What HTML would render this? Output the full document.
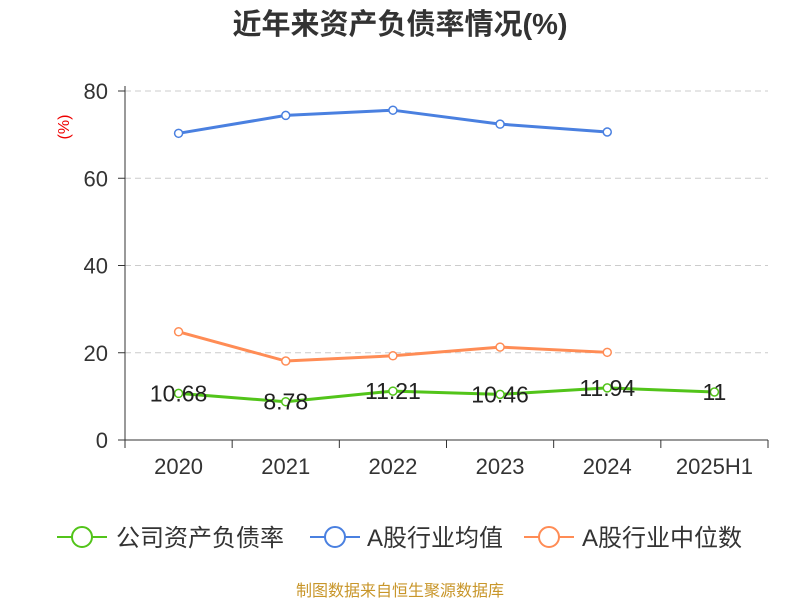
<!DOCTYPE html>
<html><head><meta charset="utf-8"><style>
body{margin:0;background:#fff;}
svg text{font-family:"Liberation Sans","Noto Sans CJK SC",sans-serif;}
</style></head><body>
<svg width="800" height="600" xmlns="http://www.w3.org/2000/svg" id="chart">
<text x="400" y="34" text-anchor="middle" font-size="29" font-weight="bold" fill="#333">近年来资产负债率情况(%)</text>
<text x="69" y="127" font-size="16" fill="#e00" transform="rotate(-90 69 127)" text-anchor="middle">(%)</text>
<g id="grid"></g><g id="axes"></g><g id="series"></g>
<g>
<g><line x1="57" y1="537" x2="107" y2="537" stroke="#52c41a" stroke-width="2"/><circle cx="82" cy="537" r="10" fill="#fff" stroke="#52c41a" stroke-width="2"/><text x="116" y="546" font-size="24" fill="#333">公司资产负债率</text></g>
<g><line x1="310" y1="537" x2="360" y2="537" stroke="#4a80e0" stroke-width="2"/><circle cx="335" cy="537" r="10" fill="#fff" stroke="#4a80e0" stroke-width="2"/><text x="367" y="546" font-size="24" fill="#333">A股行业均值</text></g>
<g><line x1="524" y1="537" x2="574" y2="537" stroke="#ff8c55" stroke-width="2"/><circle cx="549" cy="537" r="10" fill="#fff" stroke="#ff8c55" stroke-width="2"/><text x="582" y="546" font-size="24" fill="#333">A股行业中位数</text></g>
</g>
<text x="400" y="596" text-anchor="middle" font-size="16" fill="#c8962a">制图数据来自恒生聚源数据库</text>
</svg>
<script>
const categories=["2020","2021","2022","2023","2024","2025H1"];
const companyValues=[10.68,8.78,11.21,10.46,11.94,11];
const companyLabels=["10.68","8.78","11.21","10.46","11.94","11"];
const avgValues=[70.3,74.4,75.6,72.4,70.6];
const medianValues=[24.8,18.1,19.3,21.3,20.1];
const yTicks=[0,20,40,60,80];
const NS="http://www.w3.org/2000/svg";
const x0=125,x1=768,y0=440,yTop=91,yMax=80;
const bw=(x1-x0)/categories.length;
const xs=i=>x0+bw*(i+0.5);
const ys=v=>y0-(v/yMax)*(y0-yTop);
function mk(tag,attrs,parent){const e=document.createElementNS(NS,tag);for(const k in attrs)e.setAttribute(k,attrs[k]);parent.appendChild(e);return e;}
const grid=document.getElementById('grid'),axes=document.getElementById('axes'),series=document.getElementById('series');
yTicks.forEach(t=>{
 if(t>0){const l=mk('line',{x1:x0,x2:x1,y1:ys(t),y2:ys(t),stroke:'#ccc','stroke-dasharray':'6,4'},grid);
 
 }
 const tk=mk('line',{x1:x0-7,x2:x0,y1:ys(t),y2:ys(t),stroke:'#333'},axes);
 
 
 const tx=mk('text',{x:x0-17,y:ys(t)+8,'text-anchor':'end','font-size':22,fill:'#333'},axes);tx.textContent=t;
 
 
});
const ya=mk('line',{x1:x0,x2:x0,y1:yTop-5,y2:y0,stroke:'#333'},axes);


const xa=mk('line',{x1:x0,x2:x1,y1:y0,y2:y0,stroke:'#333'},axes);


for(let i=0;i<=categories.length;i++){const t=mk('line',{x1:x0+bw*i,x2:x0+bw*i,y1:y0,y2:y0+8,stroke:'#333'},axes);
 
 }
categories.forEach((c,i)=>{const t=mk('text',{x:xs(i),y:474,'text-anchor':'middle','font-size':22,fill:'#333'},axes);t.textContent=c;
 
 });
function line(vals,color,name){
 const p=mk('polyline',{points:vals.map((v,i)=>xs(i)+','+ys(v)).join(' '),fill:'none',stroke:color,'stroke-width':3},series);
 
 
 vals.forEach((v,i)=>{const c=mk('circle',{cx:xs(i),cy:ys(v),r:4,fill:'#fff',stroke:color,'stroke-width':1.5},series);
  
  });
}
line(avgValues,'#4a80e0','industry-avg');
line(medianValues,'#ff8c55','industry-median');
line(companyValues,'#52c41a','company');
companyValues.forEach((v,i)=>{const t=mk('text',{x:xs(i),y:ys(v)+8,'text-anchor':'middle','font-size':23,fill:'#222'},series);t.textContent=companyLabels[i];
 
 });
</script>
</body></html>
